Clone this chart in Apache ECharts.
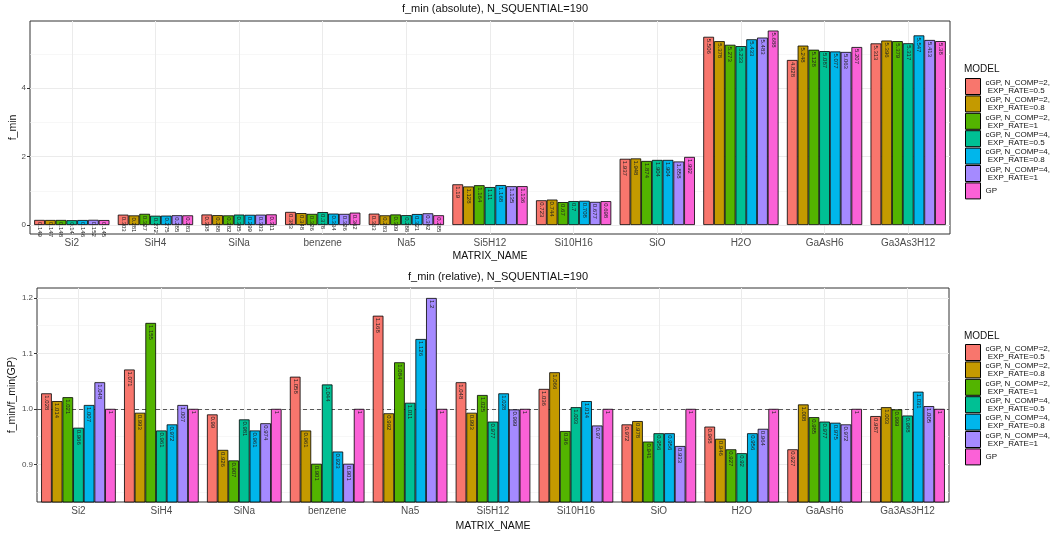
<!DOCTYPE html>
<html>
<head>
<meta charset="utf-8">
<script src="https://cdn.jsdelivr.net/npm/echarts@6/dist/echarts.min.js"></script>
<style>html,body{margin:0;padding:0;background:#fff}#main{width:1052px;height:533px}</style>
</head>
<body>
<div id="main"></div>
<script>
var categories = ['Si2', 'SiH4', 'SiNa', 'benzene', 'Na5', 'Si5H12', 'Si10H16', 'SiO', 'H2O', 'GaAsH6', 'Ga3As3H12'];
var models = ['cGP, N_COMP=2,\n EXP_RATE=0.5', 'cGP, N_COMP=2,\n EXP_RATE=0.8', 'cGP, N_COMP=2,\n EXP_RATE=1',
              'cGP, N_COMP=4,\n EXP_RATE=0.5', 'cGP, N_COMP=4,\n EXP_RATE=0.8', 'cGP, N_COMP=4,\n EXP_RATE=1', 'GP'];
var colors = ['#F8766D', '#C49A00', '#53B400', '#00C094', '#00B6EB', '#A58AFF', '#FB61D7'];

// absolute f_min, one array per model
var absN2R05 = [0.149, 0.303, 0.308, 0.383, 0.333, 1.19, 0.723, 1.937, 5.506, 4.828, 5.313];
var absN2R08 = [0.147, 0.281, 0.288, 0.348, 0.283, 1.128, 0.744, 1.948, 5.378, 5.248, 5.396];
var absN2R1  = [0.148, 0.327, 0.282, 0.326, 0.309, 1.164, 0.67, 1.874, 5.273, 5.128, 5.379];
var absN4R05 = [0.14, 0.272, 0.305, 0.378, 0.288, 1.11, 0.7, 1.904, 5.233, 5.087, 5.317];
var absN4R08 = [0.146, 0.275, 0.299, 0.334, 0.321, 1.168, 0.708, 1.904, 5.433, 5.077, 5.547];
var absN4R1  = [0.152, 0.285, 0.303, 0.326, 0.342, 1.135, 0.677, 1.858, 5.483, 5.063, 5.413];
var absGP    = [0.145, 0.283, 0.311, 0.362, 0.285, 1.136, 0.698, 1.992, 5.688, 5.207, 5.38];

// relative f_min / f_min(GP)
var relN2R05 = [1.028, 1.071, 0.99, 1.058, 1.168, 1.048, 1.036, 0.972, 0.968, 0.927, 0.987];
var relN2R08 = [1.014, 0.993, 0.926, 0.961, 0.992, 0.993, 1.066, 0.978, 0.946, 1.008, 1.003];
var relN2R1  = [1.021, 1.155, 0.907, 0.901, 1.084, 1.025, 0.96, 0.941, 0.927, 0.985, 0.999];
var relN4R05 = [0.966, 0.961, 0.981, 1.044, 1.011, 0.977, 1.003, 0.956, 0.92, 0.977, 0.988];
var relN4R08 = [1.007, 0.972, 0.961, 0.923, 1.126, 1.028, 1.014, 0.956, 0.956, 0.975, 1.031];
var relN4R1  = [1.048, 1.007, 0.974, 0.901, 1.2, 0.999, 0.97, 0.933, 0.964, 0.972, 1.005];
var relGP    = [1, 1, 1, 1, 1, 1, 1, 1, 1, 1, 1];

var absData = [absN2R05, absN2R08, absN2R1, absN4R05, absN4R08, absN4R1, absGP];
var relData = [relN2R05, relN2R08, relN2R1, relN4R05, relN4R08, relN4R1, relGP];

var absMajor = [0, 2, 4];
var absMinor = [1, 3, 5];
var relMajor = [0.9, 1.0, 1.1, 1.2];
var relMinor = [0.85, 0.95, 1.05, 1.15];
var catIdx = [0, 1, 2, 3, 4, 5, 6, 7, 8, 9, 10];

var FONT = 'Liberation Sans';
var myChart = echarts.init(document.getElementById('main'));

function barSeries(name, data, i, xi, yi) {
  return {
    name: name, type: 'bar', data: data, xAxisIndex: xi, yAxisIndex: yi, z: 3,
    barGap: '0%', barCategoryGap: '10%',
    itemStyle: {color: colors[i], borderColor: '#000', borderWidth: 0.8},
    label: {
      show: true, position: ['50%', 2], rotate: -90, align: 'left', verticalAlign: 'middle',
      fontSize: 6, fontFamily: FONT, color: '#222'
    },
    emphasis: {disabled: true}, animation: false
  };
}

var series = [];
for (var i = 0; i < 7; i++) series.push(barSeries(models[i], absData[i], i, 0, 0));
for (var i = 0; i < 7; i++) series.push(barSeries(models[i], relData[i], i, 2, 2));
// dashed reference line at 1
series.push({
  type: 'line', data: [], xAxisIndex: 2, yAxisIndex: 2, z: 1,
  markLine: {
    silent: true, symbol: 'none', z: 1, label: {show: false},
    lineStyle: {type: [4, 3], color: '#333', width: 0.8},
    data: [{yAxis: 1}]
  }
});

function catAxis(gi, gap) {
  return {
    type: 'category', gridIndex: gi, data: categories,
    name: 'MATRIX_NAME', nameLocation: 'middle', nameGap: gap,
    nameTextStyle: {fontFamily: FONT, fontSize: 10.5, color: '#111'},
    axisLine: {show: false, onZero: false},
    axisTick: {alignWithLabel: true, length: 3, lineStyle: {color: '#333'}},
    axisLabel: {fontFamily: FONT, fontSize: 10, color: '#4D4D4D', margin: 4},
    splitLine: {show: false}
  };
}
function gridXAxis(gi) {
  return {
    type: 'value', gridIndex: gi, min: -0.5, max: 10.5, show: true,
    axisLine: {show: false, onZero: false}, axisLabel: {show: false},
    axisTick: {show: false, customValues: catIdx},
    splitLine: {show: true, lineStyle: {color: '#EBEBEB', width: 1}}
  };
}
function valAxis(gi, min, max, major, name, gap, digits) {
  return {
    type: 'value', gridIndex: gi, min: min, max: max, position: 'left',
    name: name, nameLocation: 'middle', nameGap: gap, nameMoveOverlap: false,
    nameTextStyle: {fontFamily: FONT, fontSize: 10.5, color: '#111'},
    axisLine: {show: false, onZero: false},
    axisTick: {show: true, length: 3, customValues: major, lineStyle: {color: '#333'}},
    axisLabel: {customValues: major, fontFamily: FONT, fontSize: 8, color: '#4D4D4D', margin: 4,
      formatter: function (v) { return v.toFixed(digits); }},
    splitLine: {show: true, lineStyle: {color: '#EBEBEB', width: 1}}
  };
}
function minorAxis(gi, min, max, minor) {
  return {
    type: 'value', gridIndex: gi, min: min, max: max, position: 'left',
    axisLine: {show: false, onZero: false}, axisLabel: {show: false},
    axisTick: {show: false, customValues: minor},
    splitLine: {show: true, lineStyle: {color: '#F2F2F2', width: 0.6}}
  };
}

function legendAt(top) {
  return {
    data: models, orient: 'vertical', left: 965, top: top, padding: 0,
    itemWidth: 15, itemHeight: 16, itemGap: 0.4, icon: 'rect',
    itemStyle: {borderColor: '#000', borderWidth: 1},
    textStyle: {fontFamily: FONT, fontSize: 8, lineHeight: 8, color: '#111'},
    selectedMode: false
  };
}

var option = {
  backgroundColor: '#fff',
  animation: false,
  title: [
    {text: 'f_min (absolute), N_SQUENTIAL=190', left: 490, top: -2, textAlign: 'center',
     textStyle: {fontFamily: FONT, fontSize: 11, fontWeight: 'normal', color: '#111'}},
    {text: 'f_min (relative), N_SQUENTIAL=190', left: 493, top: 266, textAlign: 'center',
     textStyle: {fontFamily: FONT, fontSize: 11, fontWeight: 'normal', color: '#111'}},
    {text: 'MODEL', left: 959, top: 59, textStyle: {fontFamily: FONT, fontSize: 10, fontWeight: 'normal', color: '#111'}},
    {text: 'MODEL', left: 959, top: 326, textStyle: {fontFamily: FONT, fontSize: 10, fontWeight: 'normal', color: '#111'}}
  ],
  legend: [legendAt(78), legendAt(344)],
  grid: [
    {left: 30, right: 102, top: 21, height: 213, show: true, borderColor: '#333', borderWidth: 1,
     backgroundColor: 'transparent', outerBoundsMode: 'none', containLabel: false},
    {left: 37, right: 103, top: 288, height: 214, show: true, borderColor: '#333', borderWidth: 1,
     backgroundColor: 'transparent', outerBoundsMode: 'none', containLabel: false}
  ],
  xAxis: [catAxis(0, 17), gridXAxis(0), catAxis(1, 19), gridXAxis(1)],
  yAxis: [
    valAxis(0, -0.263, 5.968, absMajor, 'f_min', 11, 0),
    minorAxis(0, -0.263, 5.968, absMinor),
    valAxis(1, 0.832, 1.218, relMajor, 'f_min/f_min(GP)', 19, 1),
    minorAxis(1, 0.832, 1.218, relMinor)
  ],
  series: series
};
myChart.setOption(option);
</script>
</body>
</html>
